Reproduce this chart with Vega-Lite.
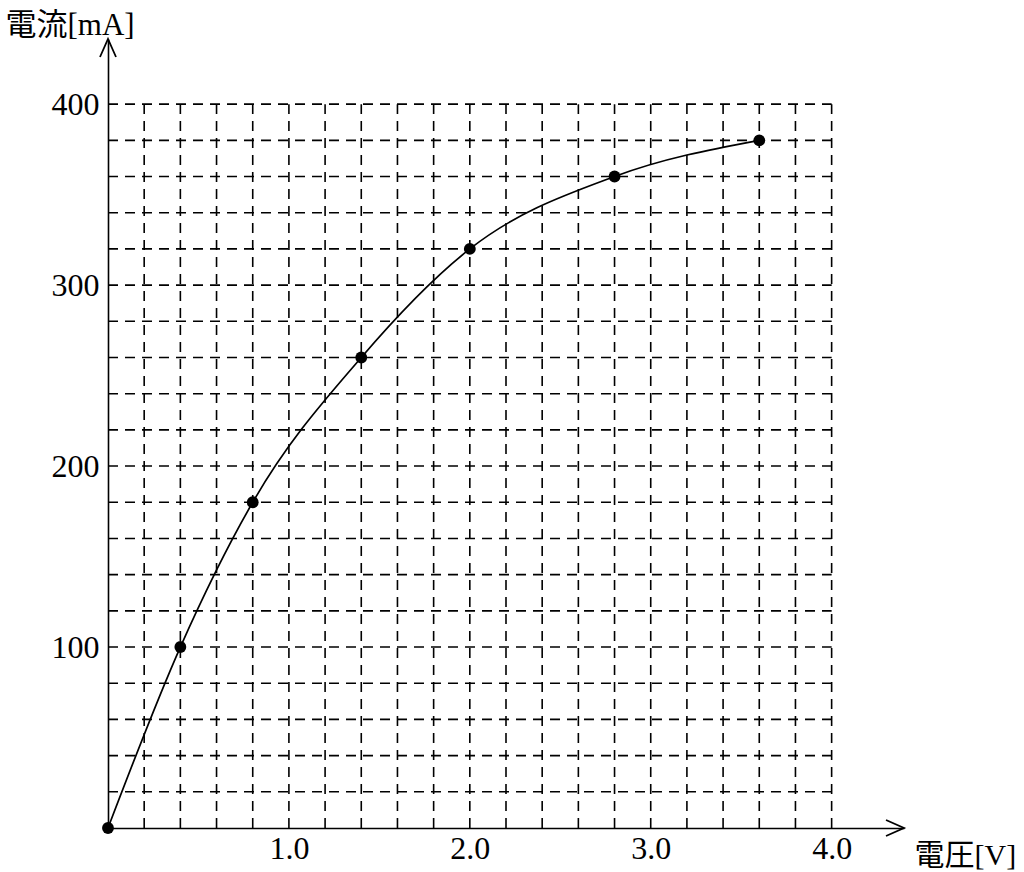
{
  "$schema": "https://vega.github.io/schema/vega-lite/v6.json",
  "autosize": {"type": "none"},
  "width": 796,
  "height": 789,
  "padding": {"left": 108, "top": 39, "right": 120, "bottom": 44},
  "background": "white",
  "config": {"view": {"stroke": null}},
  "datasets": {
    "points": [
      {"v": 0, "i": 0},
      {"v": 0.4, "i": 100},
      {"v": 0.8, "i": 180},
      {"v": 1.4, "i": 260},
      {"v": 2.0, "i": 320},
      {"v": 2.8, "i": 360},
      {"v": 3.6, "i": 380}
    ],
    "vgrid": [
      {"x": 0.2}, {"x": 0.4}, {"x": 0.6}, {"x": 0.8}, {"x": 1.0},
      {"x": 1.2}, {"x": 1.4}, {"x": 1.6}, {"x": 1.8}, {"x": 2.0},
      {"x": 2.2}, {"x": 2.4}, {"x": 2.6}, {"x": 2.8}, {"x": 3.0},
      {"x": 3.2}, {"x": 3.4}, {"x": 3.6}, {"x": 3.8}, {"x": 4.0}
    ],
    "hgrid": [
      {"y": 20}, {"y": 40}, {"y": 60}, {"y": 80}, {"y": 100},
      {"y": 120}, {"y": 140}, {"y": 160}, {"y": 180}, {"y": 200},
      {"y": 220}, {"y": 240}, {"y": 260}, {"y": 280}, {"y": 300},
      {"y": 320}, {"y": 340}, {"y": 360}, {"y": 380}, {"y": 400}
    ],
    "arrows": [
      {"v": 4.4, "i": 0, "shape": "M -1.8 -0.8 L 0 0 L -1.8 0.8"},
      {"v": 0, "i": 436, "shape": "M -0.8 1.8 L 0 0 L 0.8 1.8"}
    ]
  },
  "layer": [
    {
      "data": {"name": "vgrid"},
      "mark": {"type": "rule", "color": "black", "strokeWidth": 1.6, "strokeDash": [10, 7]},
      "encoding": {
        "x": {"field": "x", "type": "quantitative", "scale": {"domain": [0, 4.4], "nice": false, "zero": false},
          "axis": {
            "values": [1, 2, 3, 4], "format": ".1f", "ticks": false, "grid": false,
            "domainColor": "black", "domainWidth": 1.6,
            "labelFont": "'Liberation Serif', serif", "labelFontSize": 32, "labelColor": "black", "labelPadding": 5,
            "title": "電圧[V]", "titleFont": "'Liberation Serif', 'Noto Sans CJK JP', serif", "titleFontSize": 30,
            "titleFontWeight": "normal", "titleColor": "black",
            "titleX": 806, "titleY": 36, "titleAlign": "left", "titleBaseline": "alphabetic"
          }
        },
        "y": {"datum": 0, "type": "quantitative"},
        "y2": {"datum": 400}
      }
    },
    {
      "data": {"name": "hgrid"},
      "mark": {"type": "rule", "color": "black", "strokeWidth": 1.6, "strokeDash": [10, 7]},
      "encoding": {
        "y": {"field": "y", "type": "quantitative", "scale": {"domain": [0, 436], "nice": false, "zero": false},
          "axis": {
            "values": [100, 200, 300, 400], "ticks": false, "grid": false,
            "domainColor": "black", "domainWidth": 1.6,
            "labelFont": "'Liberation Serif', serif", "labelFontSize": 32, "labelColor": "black", "labelPadding": 9,
            "title": "電流[mA]", "titleFont": "'Liberation Serif', 'Noto Sans CJK JP', serif", "titleFontSize": 31,
            "titleFontWeight": "normal", "titleColor": "black", "titleAngle": 0,
            "titleX": -103, "titleY": -5, "titleAlign": "left", "titleBaseline": "alphabetic"
          }
        },
        "x": {"datum": 0, "type": "quantitative"},
        "x2": {"datum": 4.0}
      }
    },
    {
      "data": {"name": "points"},
      "mark": {"type": "line", "interpolate": "monotone", "color": "black", "strokeWidth": 1.7},
      "encoding": {
        "x": {"field": "v", "type": "quantitative"},
        "y": {"field": "i", "type": "quantitative"}
      }
    },
    {
      "data": {"name": "points"},
      "mark": {"type": "point", "filled": true, "color": "black", "size": 140, "opacity": 1},
      "encoding": {
        "x": {"field": "v", "type": "quantitative"},
        "y": {"field": "i", "type": "quantitative"}
      }
    },
    {
      "data": {"name": "arrows"},
      "mark": {"type": "point", "filled": false, "color": "black", "strokeWidth": 1.8, "size": 400, "opacity": 1},
      "encoding": {
        "x": {"field": "v", "type": "quantitative"},
        "y": {"field": "i", "type": "quantitative"},
        "shape": {"field": "shape", "type": "nominal", "scale": null}
      }
    }
  ]
}
